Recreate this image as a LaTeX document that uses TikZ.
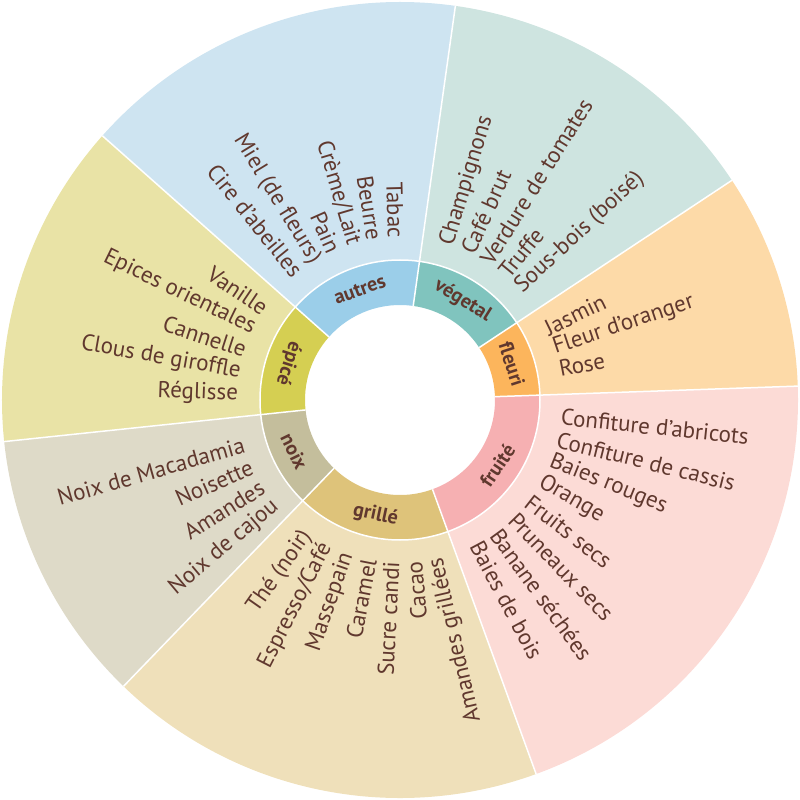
\documentclass[tikz,border=0pt]{standalone}
\usepackage{fontspec}
\setmainfont{PT Sans}
\usepackage{tikz}
\usepackage{xcolor}
\definecolor{aromabrown}{RGB}{96, 56, 46}
\definecolor{autresout}{RGB}{206, 228, 241}
\definecolor{autresin}{RGB}{155, 206, 233}
\definecolor{vegetalout}{RGB}{206, 228, 224}
\definecolor{vegetalin}{RGB}{128, 196, 190}
\definecolor{fleuriout}{RGB}{253, 218, 168}
\definecolor{fleuriin}{RGB}{252, 181, 92}
\definecolor{fruiteout}{RGB}{252, 219, 214}
\definecolor{fruitein}{RGB}{246, 176, 178}
\definecolor{grilleout}{RGB}{239, 224, 186}
\definecolor{grillein}{RGB}{222, 195, 122}
\definecolor{noixout}{RGB}{222, 218, 200}
\definecolor{noixin}{RGB}{196, 190, 156}
\definecolor{epiceout}{RGB}{233, 227, 166}
\definecolor{epicein}{RGB}{213, 207, 82}
\tikzset{
    divider/.style={white, line width=1.5pt},
    ringlabel/.style={
        text=aromabrown, font=\fontsize{20}{20}\selectfont\bfseries, inner sep=0pt
    },
    outlabel/.style={
        text=aromabrown, font=\fontsize{23}{23}\selectfont, inner sep=0pt, anchor=west
    },
    inlabel/.style={
        text=aromabrown, font=\fontsize{23}{23}\selectfont, inner sep=0pt, anchor=east
    },
}

\begin{document}
\begin{tikzpicture}[x=1pt, y=1pt]
    \useasboundingbox (-400, -400) rectangle (400, 400);

    \fill[autresout] (82:140) -- (82:398) arc[start angle=82, end angle=138.4, radius=398] -- (138.4:140) arc[start angle=138.4, end angle=82, radius=140] -- cycle;
    \fill[vegetalout] (33.5:140) -- (33.5:398) arc[start angle=33.5, end angle=82, radius=398] -- (82:140) arc[start angle=82, end angle=33.5, radius=140] -- cycle;
    \fill[fleuriout] (2:140) -- (2:398) arc[start angle=2, end angle=33.5, radius=398] -- (33.5:140) arc[start angle=33.5, end angle=2, radius=140] -- cycle;
    \fill[fruiteout] (-70:140) -- (-70:398) arc[start angle=-70, end angle=2, radius=398] -- (2:140) arc[start angle=2, end angle=-70, radius=140] -- cycle;
    \fill[grilleout] (226:140) -- (226:398) arc[start angle=226, end angle=290, radius=398] -- (290:140) arc[start angle=290, end angle=226, radius=140] -- cycle;
    \fill[noixout] (186:140) -- (186:398) arc[start angle=186, end angle=226, radius=398] -- (226:140) arc[start angle=226, end angle=186, radius=140] -- cycle;
    \fill[epiceout] (138.4:140) -- (138.4:398) arc[start angle=138.4, end angle=186, radius=398] -- (186:140) arc[start angle=186, end angle=138.4, radius=140] -- cycle;

    \fill[autresin] (82:95) -- (82:140) arc[start angle=82, end angle=138.4, radius=140] -- (138.4:95) arc[start angle=138.4, end angle=82, radius=95] -- cycle;
    \fill[vegetalin] (33.5:95) -- (33.5:140) arc[start angle=33.5, end angle=82, radius=140] -- (82:95) arc[start angle=82, end angle=33.5, radius=95] -- cycle;
    \fill[fleuriin] (2:95) -- (2:140) arc[start angle=2, end angle=33.5, radius=140] -- (33.5:95) arc[start angle=33.5, end angle=2, radius=95] -- cycle;
    \fill[fruitein] (-70:95) -- (-70:140) arc[start angle=-70, end angle=2, radius=140] -- (2:95) arc[start angle=2, end angle=-70, radius=95] -- cycle;
    \fill[grillein] (226:95) -- (226:140) arc[start angle=226, end angle=290, radius=140] -- (290:95) arc[start angle=290, end angle=226, radius=95] -- cycle;
    \fill[noixin] (186:95) -- (186:140) arc[start angle=186, end angle=226, radius=140] -- (226:95) arc[start angle=226, end angle=186, radius=95] -- cycle;
    \fill[epicein] (138.4:95) -- (138.4:140) arc[start angle=138.4, end angle=186, radius=140] -- (186:95) arc[start angle=186, end angle=138.4, radius=95] -- cycle;

    \draw[divider] (0, 0) circle[radius=140];
    \draw[divider] (2:95) -- (2:398);
    \draw[divider] (33.5:95) -- (33.5:398);
    \draw[divider] (82:95) -- (82:398);
    \draw[divider] (138.4:95) -- (138.4:398);
    \draw[divider] (186:95) -- (186:398);
    \draw[divider] (226:95) -- (226:398);
    \draw[divider] (290:95) -- (290:398);

    \node[ringlabel, rotate=20] (autres) at (110:117.5) {autres};
    \node[ringlabel, rotate=-32] (vegetal) at (57.75:117.5) {végetal};
    \node[ringlabel, rotate=-72] (fleuri) at (17.75:117.5) {fleuri};
    \node[ringlabel, rotate=56] (fruite) at (-34:117.5) {fruité};
    \node[ringlabel, rotate=-12] (grille) at (258:117.5) {grillé};
    \node[ringlabel, rotate=296] (noix) at (206:117.5) {noix};
    \node[ringlabel, rotate=252] (epice) at (162:117.5) {épicé};

    \node[inlabel, rotate=271.5] (tabac) at (91.5:162) {Tabac};
    \node[inlabel, rotate=279] (beurre) at (99:162) {Beurre};
    \node[inlabel, rotate=286.5] (creme) at (106.5:162) {Crème/Lait};
    \node[inlabel, rotate=294] (pain) at (114:162) {Pain};
    \node[inlabel, rotate=301.5] (miel) at (121.5:162) {Miel (de fleurs)};
    \node[inlabel, rotate=309] (cire) at (129:162) {Cire d'abeilles};

    \node[outlabel, rotate=73] (champignons) at (73:162) {Champignons};
    \node[outlabel, rotate=65.5] (cafebrut) at (65.5:162) {Café brut};
    \node[outlabel, rotate=58] (verdure) at (58:162) {Verdure de tomates};
    \node[outlabel, rotate=50.5] (truffe) at (50.5:162) {Truffe};
    \node[outlabel, rotate=43] (sousbois) at (43:162) {Sous-bois (boisé)};

    \node[outlabel, rotate=26] (jasmin) at (26:162) {Jasmin};
    \node[outlabel, rotate=18.5] (fleurdoranger) at (18.5:162) {Fleur d’oranger};
    \node[outlabel, rotate=11] (rose) at (11:162) {Rose};

    \node[outlabel, rotate=-6] (abricots) at (-6:162) {Confiture d’abricots};
    \node[outlabel, rotate=-14] (cassis) at (-14:162) {Confiture de cassis};
    \node[outlabel, rotate=-22] (baiesrouges) at (-22:162) {Baies rouges};
    \node[outlabel, rotate=-30] (orange) at (-30:162) {Orange};
    \node[outlabel, rotate=-38] (fruitssecs) at (-38:162) {Fruits secs};
    \node[outlabel, rotate=-46] (pruneaux) at (-46:162) {Pruneaux secs};
    \node[outlabel, rotate=-54] (banane) at (-54:162) {Banane séchées};
    \node[outlabel, rotate=-62] (baiesbois) at (-62:162) {Baies de bois};

    \node[inlabel, rotate=55] (the) at (-125:162) {Thé (noir)};
    \node[inlabel, rotate=63] (espresso) at (-117:162) {Espresso/Café};
    \node[inlabel, rotate=71] (massepain) at (-109:162) {Massepain};
    \node[inlabel, rotate=79] (caramel) at (-101:162) {Caramel};
    \node[inlabel, rotate=87] (sucre) at (-93:162) {Sucre candi};
    \node[inlabel, rotate=95] (cacao) at (-85:162) {Cacao};
    \node[inlabel, rotate=103] (amandesgrillees) at (-77:162) {Amandes grillées};

    \node[inlabel, rotate=16] (macadamia) at (196:162) {Noix de Macadamia};
    \node[inlabel, rotate=24] (noisette) at (204:162) {Noisette};
    \node[inlabel, rotate=32] (amandes) at (212:162) {Amandes};
    \node[inlabel, rotate=40] (cajou) at (220:162) {Noix de cajou};

    \node[inlabel, rotate=326] (vanille) at (146:162) {Vanille};
    \node[inlabel, rotate=334] (epices) at (154:162) {Epices orientales};
    \node[inlabel, rotate=342] (cannelle) at (162:162) {Cannelle};
    \node[inlabel, rotate=350] (clous) at (170:162) {Clous de giroffle};
    \node[inlabel, rotate=358] (reglisse) at (178:162) {Réglisse};
\end{tikzpicture}
\end{document}
